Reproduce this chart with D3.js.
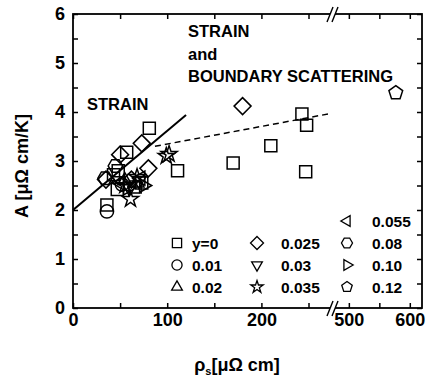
<!DOCTYPE html>
<html>
<head>
<meta charset="utf-8">
<script src="https://cdn.jsdelivr.net/npm/d3@7"></script>
<style>
  body { margin: 0; background: #fff; }
  text { font-family: "Liberation Sans", Arial, sans-serif; font-weight: bold; fill: #000; }
</style>
</head>
<body>
<script>
const w = 427;
const h = 384;

// data: [rho_s, A] for each composition y
const sq = [[36, 2.1], [43, 2.72], [48, 2.8], [47, 2.42], [57, 3.18], [66, 2.47], [73, 2.55], [81, 3.67], [111, 2.8], [170, 2.96], [210, 3.31], [243, 3.96], [248, 3.73], [247, 2.78]];
const circ = [[36, 1.97], [52, 2.52]];
const triUp = [[55, 2.6], [68, 2.55]];
const diam = [[35, 2.62], [50, 3.13], [73, 3.36], [80, 2.85], [180, 4.12], [62, 2.62]];
const triDown = [[60, 2.45], [70, 2.6]];
const star = [[61, 2.22], [68, 2.67], [99, 3.1], [102, 3.14], [55, 2.5]];
const triLeft = [[50, 2.55], [72, 2.65]];
const hexa = [[34, 2.65], [45, 2.9]];
const triRight = [[58, 2.45], [75, 2.5]];
const penta = [[577, 4.39]];

const series = [
  { label: "y=0", shape: "square", pts: sq },
  { label: "0.01", shape: "circle", pts: circ },
  { label: "0.02", shape: "triUp", pts: triUp },
  { label: "0.025", shape: "diamond", pts: diam },
  { label: "0.03", shape: "triDown", pts: triDown },
  { label: "0.035", shape: "star", pts: star },
  { label: "0.055", shape: "triLeft", pts: triLeft },
  { label: "0.08", shape: "hexagon", pts: hexa },
  { label: "0.10", shape: "triRight", pts: triRight },
  { label: "0.12", shape: "pentagon", pts: penta }
];

const strainLine = [[0, 2.0], [120, 3.94]];
const boundaryLine = [[87, 3.3], [271, 3.96]];

const xTicksLeft = [0, 50, 100, 150, 200, 250];
const xTicksRight = [500, 550, 600];
const xLabels = [0, 100, 200, 500, 600];
const yTicks = d3.range(0, 6.01, 0.5);

const svg = d3.select("body").append("svg").attr("width", w).attr("height", h);

// broken x axis: two linear pieces
const mLeft = 73, mRight = 422, mTop = 14, mBottom = 308, brk = 333;
const xLeft = d3.scaleLinear().domain([0, 276]).range([mLeft, brk]);
const xRight = d3.scaleLinear().domain([474, 620]).range([brk, mRight]);
const x = (v) => (v < 350 ? xLeft(v) : xRight(v));
const y = d3.scaleLinear().domain([0, 6]).range([mBottom, mTop]);

function poly(n, r, rot) {
  let p = [];
  for (let i = 0; i < n; i++) {
    let a = rot + (i * 2 * Math.PI) / n;
    p.push([r * Math.sin(a), -r * Math.cos(a)]);
  }
  return "M" + p.map((d) => d[0].toFixed(2) + "," + d[1].toFixed(2)).join("L") + "Z";
}

function shapePath(shape, s) {
  // s = nominal radius
  switch (shape) {
    case "square": return poly(4, s * 1.0, Math.PI / 4);
    case "circle": return d3.symbol(d3.symbolCircle, Math.PI * (s * 0.78) * (s * 0.78))();
    case "triUp": return poly(3, s * 0.95, 0);
    case "triDown": return poly(3, s * 0.95, Math.PI);
    case "triLeft": return poly(3, s * 0.95, -Math.PI / 2);
    case "triRight": return poly(3, s * 0.95, Math.PI / 2);
    case "diamond": return poly(4, s * 1.0, 0);
    case "hexagon": return poly(6, s * 0.85, Math.PI / 6);
    case "pentagon": return poly(5, s * 0.85, 0);
    case "star": return d3.symbol(d3.symbolStar, (s * s) / 0.8908)();
  }
}

// lines
const line = d3.line().x((d) => x(d[0])).y((d) => y(d[1]));
svg.append("path").datum(strainLine).attr("d", line)
  .attr("fill", "none").attr("stroke", "#000").attr("stroke-width", 2);
svg.append("path").datum(boundaryLine).attr("d", line)
  .attr("fill", "none").attr("stroke", "#000").attr("stroke-width", 1.5)
  .attr("stroke-dasharray", "6,4");

// markers
series.forEach((s) => {
  svg.append("g").selectAll("path")
    .data(s.pts)
    .enter()
    .append("path")
    .attr("d", shapePath(s.shape, 8.5))
    .attr("transform", (d) => "translate(" + x(d[0]) + "," + y(d[1]) + ")")
    .attr("fill", "none")
    .attr("stroke", "#000")
    .attr("stroke-width", 1.5);
});

// axes (ticks inward)
const xAxisL = d3.axisBottom(xLeft).tickValues(xTicksLeft).tickSize(-5).tickPadding(5)
  .tickFormat((d) => (xLabels.includes(d) ? d : ""));
const xAxisR = d3.axisBottom(xRight).tickValues(xTicksRight).tickSize(-5).tickPadding(5)
  .tickFormat((d) => (xLabels.includes(d) ? d : ""));
const xTopL = d3.axisTop(xLeft).tickValues(xTicksLeft).tickSize(-5).tickFormat("");
const xTopR = d3.axisTop(xRight).tickValues(xTicksRight).tickSize(-5).tickFormat("");
const yAxis = d3.axisLeft(y).tickValues(yTicks).tickSize(-5).tickPadding(8)
  .tickFormat((d) => (Number.isInteger(d) ? d : ""));
const yRight = d3.axisRight(y).tickValues(yTicks).tickSize(-5).tickFormat("");

function styleAxis(g) {
  g.select(".domain").remove();
  g.selectAll("line").attr("stroke", "#000").attr("stroke-width", 1.5);
  g.selectAll("text").style("font-size", "18px").style("font-weight", "bold")
    .style("font-family", "Liberation Sans, Arial, sans-serif");
}

svg.append("g").attr("transform", "translate(0," + mBottom + ")").call(xAxisL).call(styleAxis);
svg.append("g").attr("transform", "translate(0," + mBottom + ")").call(xAxisR).call(styleAxis);
svg.append("g").attr("transform", "translate(0," + mTop + ")").call(xTopL).call(styleAxis);
svg.append("g").attr("transform", "translate(0," + mTop + ")").call(xTopR).call(styleAxis);
svg.append("g").attr("transform", "translate(" + mLeft + ",0)").call(yAxis).call(styleAxis);
svg.append("g").attr("transform", "translate(" + mRight + ",0)").call(yRight).call(styleAxis);

// frame
svg.append("rect")
  .attr("x", mLeft).attr("y", mTop)
  .attr("width", mRight - mLeft).attr("height", mBottom - mTop)
  .attr("fill", "none").attr("stroke", "#000").attr("stroke-width", 1.8);

// axis break marks
[mTop, mBottom].forEach((yy) => {
  svg.append("rect").attr("x", brk - 3).attr("y", yy - 3).attr("width", 5).attr("height", 6).attr("fill", "#fff");
  [-3, 2].forEach((dx) => {
    svg.append("line")
      .attr("x1", brk + dx - 3).attr("y1", yy + 8)
      .attr("x2", brk + dx + 3).attr("y2", yy - 7)
      .attr("stroke", "#000").attr("stroke-width", 1.4);
  });
});

// annotations
svg.append("text").attr("x", 87).attr("y", 110).style("font-size", "16.5px").text("STRAIN");
svg.append("text").attr("x", 188).attr("y", 37).style("font-size", "16.5px").text("STRAIN");
svg.append("text").attr("x", 188).attr("y", 60).style("font-size", "16.5px").text("and");
svg.append("text").attr("x", 188).attr("y", 82).style("font-size", "16.5px").text("BOUNDARY SCATTERING");

// legend
const legCols = [
  { sx: 177, tx: 192, items: series.slice(0, 3), y0: 243 },
  { sx: 257, tx: 281, items: series.slice(3, 6), y0: 243 },
  { sx: 347, tx: 372, items: series.slice(6, 10), y0: 221 }
];
legCols.forEach((c) => {
  c.items.forEach((s, i) => {
    const yy = c.y0 + i * 22;
    svg.append("path").attr("d", shapePath(s.shape, 6.5))
      .attr("transform", "translate(" + c.sx + "," + yy + ")")
      .attr("fill", "none").attr("stroke", "#000").attr("stroke-width", 1.3);
    svg.append("text").attr("x", c.tx).attr("y", yy + 5.5).style("font-size", "15.5px").text(s.label);
  });
});

// axis titles
svg.append("text")
  .attr("transform", "translate(28,166) rotate(-90)")
  .attr("text-anchor", "middle")
  .style("font-size", "18px")
  .text("A [μΩ cm/K]");

const xt = svg.append("text").attr("x", 237).attr("y", 371).attr("text-anchor", "middle").style("font-size", "18px");
xt.append("tspan").text("ρ");
xt.append("tspan").attr("dy", 4).style("font-size", "11px").text("s");
xt.append("tspan").attr("dy", -4).text("[μΩ cm]");
</script>
</body>
</html>
